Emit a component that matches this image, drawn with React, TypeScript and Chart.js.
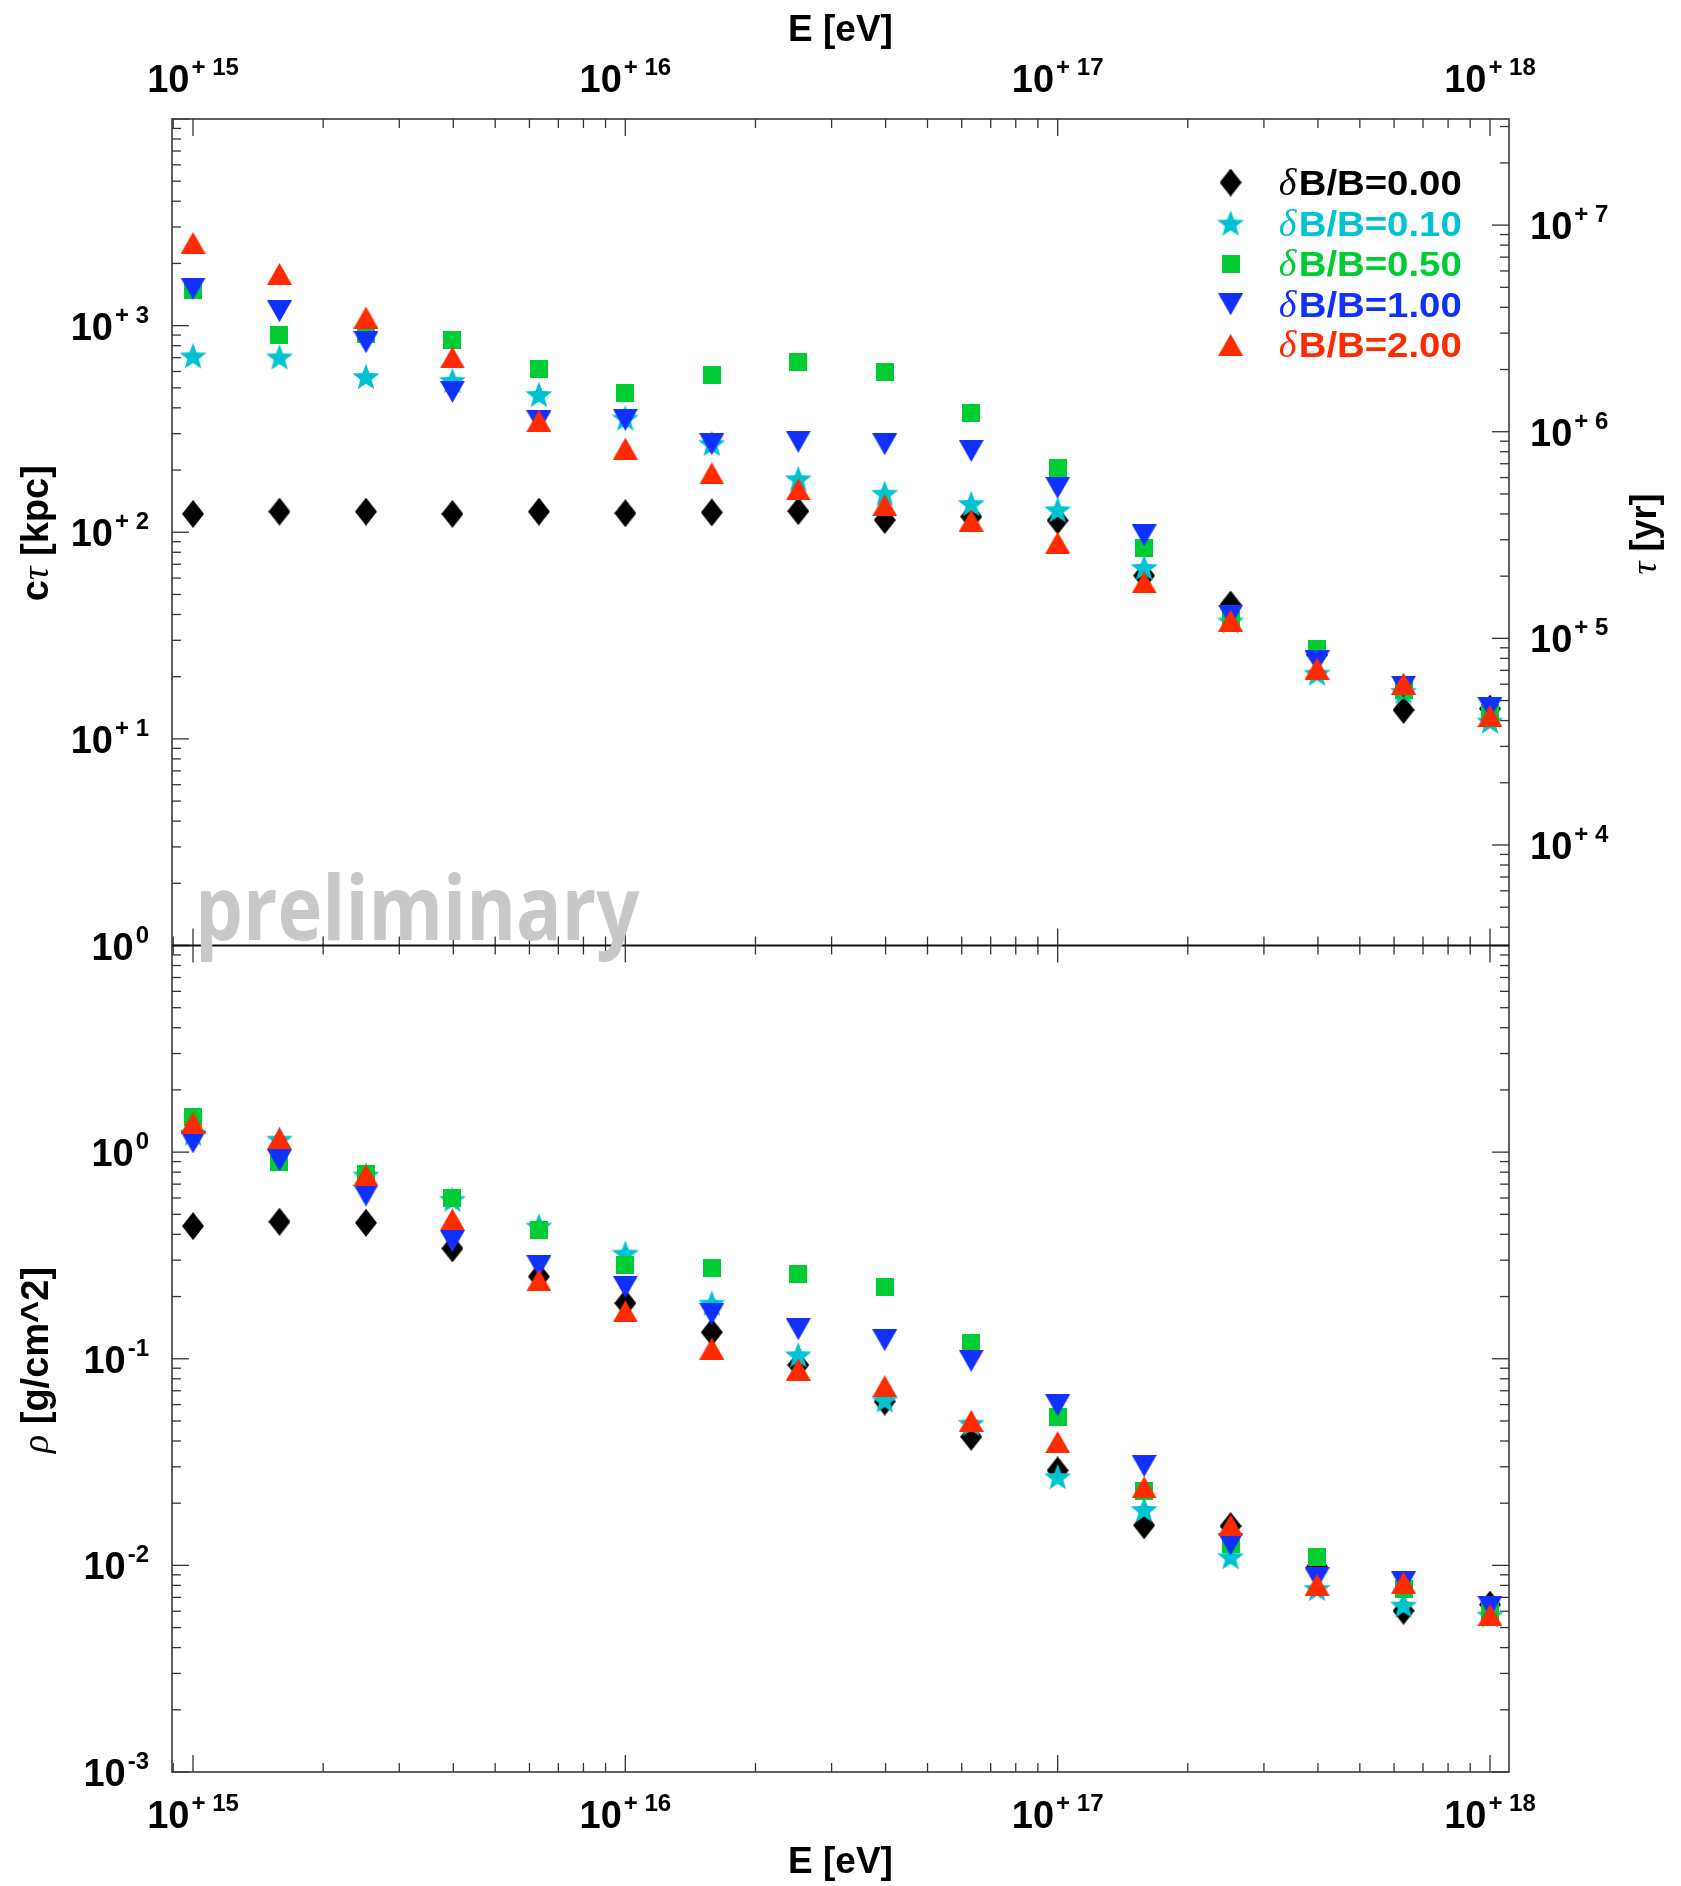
import React, { useEffect, useRef } from "react";
import { Chart, registerables } from "chart.js";

Chart.register(...registerables);

// ---------------- data ----------------
// Energies [eV] (one point every 0.2 decade)
const energyEV = [
  1.0e15, 1.585e15, 2.512e15, 3.981e15, 6.31e15,
  1.0e16, 1.585e16, 2.512e16, 3.981e16, 6.31e16,
  1.0e17, 1.585e17, 2.512e17, 3.981e17, 6.31e17,
  1.0e18,
];

// Series: deltaB/B values
const dBoverB = ["0.00", "0.10", "0.50", "1.00", "2.00"];

// Upper panel: c*tau [kpc]
const ctau_dB000 = [122.7, 125.9, 125.9, 122.7, 125.9, 123.6, 124.7, 126.5, 114.6, 119.1, 114.0, 61.7, 44.7, 25.5, 13.8, 14.0];
const ctau_dB010 = [714.5, 706.3, 567.5, 543.3, 464.5, 357.3, 269.2, 181.6, 154.5, 137.7, 128.5, 67.6, 37.2, 20.8, 17.0, 12.2];
const ctau_dB050 = [1489, 901.6, 912, 853, 619.4, 473.2, 578.1, 668.3, 597.0, 378.4, 205.1, 84.1, 38.0, 27.2, 17.3, 13.3];
const ctau_dB100 = [1510, 1175, 831.8, 478.6, 343.6, 349.9, 266.7, 274.2, 266.7, 247.7, 164.1, 96.8, 39.4, 23.7, 17.9, 14.1];
const ctau_dB200 = [2512, 1778, 1094, 701.5, 345.9, 254.1, 192.8, 161.1, 135.2, 113.8, 88.9, 57.3, 37.3, 21.9, 18.5, 12.9];

// Lower panel: rho [g/cm^2]
const rho_dB000 = [0.4385, 0.4603, 0.455, 0.342, 0.25, 0.1858, 0.1343, 0.0933, 0.0621, 0.0419, 0.0288, 0.01563, 0.01549, 0.00986, 0.00603, 0.00646];
const rho_dB010 = [1.236, 1.156, 0.776, 0.5916, 0.4395, 0.3243, 0.1858, 0.1045, 0.0632, 0.0488, 0.0269, 0.01866, 0.01102, 0.00774, 0.00643, 0.00575];
const rho_dB050 = [1.476, 0.897, 0.78, 0.597, 0.4217, 0.2858, 0.2754, 0.2582, 0.2228, 0.1197, 0.0522, 0.023, 0.01268, 0.01096, 0.00767, 0.00603];
const rho_dB100 = [1.114, 0.914, 0.6166, 0.3707, 0.2805, 0.2228, 0.1648, 0.139, 0.123, 0.0977, 0.0596, 0.0303, 0.01265, 0.00865, 0.00828, 0.00631];
const rho_dB200 = [1.387, 1.164, 0.7745, 0.4721, 0.2399, 0.1698, 0.1119, 0.0887, 0.0736, 0.05, 0.0395, 0.0239, 0.01563, 0.00805, 0.00824, 0.00575];

// Tick labels (powers of ten)
const xTickExponents = [15, 16, 17, 18];
const ctauTickExponents = [0, 1, 2, 3];
const tauTickExponents = [4, 5, 6, 7];
const rhoTickExponents = [-3, -2, -1, 0];

// 1 kpc / c expressed in years (right axis conversion)
const YR_PER_KPC_OVER_C = 3262;

// ---------------- styles ----------------
const ctauSeries = [ctau_dB000, ctau_dB010, ctau_dB050, ctau_dB100, ctau_dB200];
const rhoSeries = [rho_dB000, rho_dB010, rho_dB050, rho_dB100, rho_dB200];
const seriesColors = ["#000000", "#00c3d2", "#00cc33", "#1030ff", "#ff2a00"];
const seriesMarkers = ["diamond", "star", "square", "triangleDown", "triangleUp"];

const W = 1681;
const H = 1886;
const X_MIN = Math.pow(10, 14.9514);
const X_MAX = Math.pow(10, 18.044);

const BOLD = (s: number) => `bold ${s}px "Liberation Sans", Arial, Helvetica, sans-serif`;
const ITAL = (s: number) => `italic ${s}px "Liberation Serif", "DejaVu Serif", serif`;

function makeMarker(kind: string, color: string): HTMLCanvasElement {
  const c = document.createElement("canvas");
  let w = 20;
  let h = 20;
  if (kind === "diamond") { w = 22; h = 28; }
  else if (kind === "star") { w = 28; h = 27; }
  else if (kind === "square") { w = 18; h = 18; }
  else { w = 25; h = 22; }
  c.width = w;
  c.height = h;
  const g = c.getContext("2d") as CanvasRenderingContext2D;
  g.fillStyle = color;
  g.beginPath();
  if (kind === "diamond") {
    g.moveTo(w / 2, 0); g.lineTo(w, h / 2); g.lineTo(w / 2, h); g.lineTo(0, h / 2);
  } else if (kind === "square") {
    g.rect(0, 0, w, h);
  } else if (kind === "triangleUp") {
    g.moveTo(0, h); g.lineTo(w, h); g.lineTo(w / 2, 0);
  } else if (kind === "triangleDown") {
    g.moveTo(0, 0); g.lineTo(w, 0); g.lineTo(w / 2, h);
  } else {
    const R = 14.2;
    const r = R * 0.42;
    const cx = w / 2;
    const cy = (h - R * (1 + Math.cos(Math.PI / 5))) / 2 + R;
    for (let k = 0; k < 10; k++) {
      const ang = -Math.PI / 2 + (k * Math.PI) / 5;
      const rad = k % 2 === 0 ? R : r;
      const px = cx + rad * Math.cos(ang);
      const py = cy + rad * Math.sin(ang);
      if (k === 0) g.moveTo(px, py); else g.lineTo(px, py);
    }
  }
  g.closePath();
  g.fill();
  return c;
}

function expString(n: number): string {
  if (n > 0) return "+ " + n;
  if (n === 0) return "0";
  return "-" + Math.abs(n);
}

function drawPow(ctx: CanvasRenderingContext2D, n: number, x: number, baseline: number, align: string) {
  const mainF = BOLD(38);
  const supF = BOLD(24);
  const sup = expString(n);
  ctx.font = mainF;
  const wm = ctx.measureText("10").width;
  ctx.font = supF;
  const ws = ctx.measureText(sup).width;
  const gap = 2;
  const total = wm + gap + ws;
  const sx = align === "left" ? x : align === "center" ? x - total / 2 : x - total;
  ctx.textAlign = "left";
  ctx.textBaseline = "alphabetic";
  ctx.font = mainF;
  ctx.fillText("10", sx, baseline);
  ctx.font = supF;
  ctx.fillText(sup, sx + wm + gap, baseline - 17);
}

type Part = { t: string; f: string };

function drawParts(ctx: CanvasRenderingContext2D, parts: Part[], cx: number, base: number, rotated: boolean) {
  ctx.save();
  ctx.textAlign = "left";
  ctx.textBaseline = "alphabetic";
  let total = 0;
  const widths = parts.map((p) => {
    ctx.font = p.f;
    const w = ctx.measureText(p.t).width;
    total += w;
    return w;
  });
  if (rotated) {
    ctx.translate(base, cx);
    ctx.rotate(-Math.PI / 2);
    let x = -total / 2;
    parts.forEach((p, i) => { ctx.font = p.f; ctx.fillText(p.t, x, 0); x += widths[i]; });
  } else {
    let x = cx - total / 2;
    parts.forEach((p, i) => { ctx.font = p.f; ctx.fillText(p.t, x, base); x += widths[i]; });
  }
  ctx.restore();
}

function logTickList(minExp: number, maxExp: number) {
  const out: { v: number; major: boolean }[] = [];
  for (let n = minExp; n <= maxExp; n++) {
    for (let k = 1; k <= 9; k++) out.push({ v: k * Math.pow(10, n), major: k === 1 });
  }
  return out;
}

function seg(ctx: CanvasRenderingContext2D, x1: number, y1: number, x2: number, y2: number) {
  ctx.beginPath();
  ctx.moveTo(x1, y1);
  ctx.lineTo(x2, y2);
  ctx.stroke();
}

export default function App() {
  const ref = useRef<HTMLCanvasElement>(null);

  useEffect(() => {
    const canvas = ref.current as HTMLCanvasElement;
    const markers = seriesColors.map((c, i) => makeMarker(seriesMarkers[i], c));

    const datasets: any[] = [];
    ctauSeries.forEach((vals, i) => {
      datasets.push({
        label: "δB/B=" + dBoverB[i],
        data: energyEV.map((e, k) => ({ x: e, y: vals[k] })),
        xAxisID: "x",
        yAxisID: "yTop",
        pointStyle: markers[i],
        pointRadius: 10,
        pointHoverRadius: 10,
        showLine: false,
        order: 4 - i,
      });
    });
    rhoSeries.forEach((vals, i) => {
      datasets.push({
        label: "δB/B=" + dBoverB[i],
        data: energyEV.map((e, k) => ({ x: e, y: vals[k] })),
        xAxisID: "x",
        yAxisID: "yBot",
        pointStyle: markers[i],
        pointRadius: 10,
        pointHoverRadius: 10,
        showLine: false,
        order: 4 - i,
      });
    });

    const axesPlugin = {
      id: "rootAxes",
      beforeDatasetsDraw(chart: any) {
        const ctx = chart.ctx as CanvasRenderingContext2D;
        const a = chart.chartArea;
        const xs = chart.scales.x;
        const yT = chart.scales.yTop;
        const yB = chart.scales.yBot;
        const mid = yT.getPixelForValue(1);
        ctx.save();
        ctx.lineWidth = 1.3;
        ctx.strokeStyle = "#333";
        const xt = logTickList(14, 18).filter((t) => t.v >= X_MIN * 0.9999 && t.v <= X_MAX * 1.0001);
        xt.forEach((t) => {
          const px = xs.getPixelForValue(t.v);
          const L = t.major ? 17 : 9;
          seg(ctx, px, a.top, px, a.top + L);
          seg(ctx, px, mid, px, mid - L);
          seg(ctx, px, mid, px, mid + L);
          seg(ctx, px, a.bottom, px, a.bottom - L);
        });
        logTickList(0, 4).filter((t) => t.v <= 1e4 * 1.0001).forEach((t) => {
          const py = yT.getPixelForValue(t.v);
          const L = t.major ? 17 : 9;
          seg(ctx, a.left, py, a.left + L, py);
        });
        logTickList(3, 7).forEach((t) => {
          const c = t.v / YR_PER_KPC_OVER_C;
          if (c < 1 || c > 1e4) return;
          const py = yT.getPixelForValue(c);
          const L = t.major ? 17 : 9;
          seg(ctx, a.right, py, a.right - L, py);
        });
        logTickList(-3, 1).filter((t) => t.v <= 10 * 1.0001).forEach((t) => {
          const py = yB.getPixelForValue(t.v);
          const L = t.major ? 17 : 9;
          seg(ctx, a.left, py, a.left + L, py);
          seg(ctx, a.right, py, a.right - L, py);
        });
        ctx.lineWidth = 1.6;
        ctx.strokeStyle = "#3a3a3a";
        ctx.strokeRect(a.left, a.top, a.right - a.left, a.bottom - a.top);
        ctx.lineWidth = 2;
        ctx.strokeStyle = "#111";
        seg(ctx, a.left, mid, a.right, mid);
        ctx.restore();
      },
      afterDraw(chart: any) {
        const ctx = chart.ctx as CanvasRenderingContext2D;
        const a = chart.chartArea;
        const xs = chart.scales.x;
        const yT = chart.scales.yTop;
        const yB = chart.scales.yBot;
        ctx.save();
        ctx.fillStyle = "#000";
        // tick labels
        xTickExponents.forEach((n) => {
          const px = xs.getPixelForValue(Math.pow(10, n));
          drawPow(ctx, n, px, 92, "center");
          drawPow(ctx, n, px, 1828, "center");
        });
        ctauTickExponents.forEach((n) => {
          const py = yT.getPixelForValue(Math.pow(10, n));
          drawPow(ctx, n, a.left - 23, py + 14, "right");
        });
        tauTickExponents.forEach((n) => {
          const py = yT.getPixelForValue(Math.pow(10, n) / YR_PER_KPC_OVER_C);
          drawPow(ctx, n, a.right + 21, py + 14, "left");
        });
        rhoTickExponents.forEach((n) => {
          const py = yB.getPixelForValue(Math.pow(10, n));
          drawPow(ctx, n, a.left - 23, py + 14, "right");
        });
        // axis titles
        const cx = (a.left + a.right) / 2;
        drawParts(ctx, [{ t: "E [eV]", f: BOLD(37) }], cx, 41, false);
        drawParts(ctx, [{ t: "E [eV]", f: BOLD(37) }], cx, 1873, false);
        const midTop = (a.top + yT.getPixelForValue(1)) / 2;
        drawParts(ctx, [{ t: "c", f: BOLD(38) }, { t: "τ", f: ITAL(38) }, { t: " [kpc]", f: BOLD(38) }], midTop + 1, 48, true);
        drawParts(ctx, [{ t: "ρ", f: ITAL(38) }, { t: " [g/cm^2]", f: BOLD(38) }], 1360, 48, true);
        drawParts(ctx, [{ t: "τ", f: ITAL(36) }, { t: " [yr]", f: BOLD(36) }], 534, 1656, true);

        // legend
        const legX = xs.getPixelForValue(energyEV[12]);
        const legTextX = 1278.7;
        for (let i = 0; i < dBoverB.length; i++) {
          const y = 182.5 + i * 40.6;
          const m = markers[i];
          ctx.drawImage(m, legX - m.width / 2, y - m.height / 2);
          ctx.fillStyle = seriesColors[i];
          ctx.textAlign = "left";
          ctx.textBaseline = "alphabetic";
          ctx.font = ITAL(38);
          ctx.fillText("δ", legTextX, y + 12.5);
          ctx.font = BOLD(35);
          const s = "B/B=" + dBoverB[i];
          const mw = ctx.measureText(s).width;
          ctx.save();
          ctx.translate(legTextX + 20, y + 12.5);
          ctx.scale(163 / mw, 1);
          ctx.fillText(s, 0, 0);
          ctx.restore();
        }

        // watermark
        ctx.font = 'bold 90px "Open Sans", Lato, sans-serif';
        ctx.fillStyle = "#c8c8c8";
        ctx.textAlign = "left";
        ctx.textBaseline = "alphabetic";
        const txt = "preliminary";
        const mm = ctx.measureText(txt);
        const inkW = mm.actualBoundingBoxLeft + mm.actualBoundingBoxRight;
        const sx = 439 / inkW;
        ctx.translate(201, 940);
        ctx.scale(sx, 1);
        ctx.fillText(txt, mm.actualBoundingBoxLeft, 0);
        ctx.restore();
      },
    };

    const chart = new Chart(canvas, {
      type: "scatter",
      data: { datasets },
      options: {
        responsive: false,
        animation: false,
        events: [],
        layout: { padding: { left: 172, right: W - 1509, top: 119, bottom: H - 1772 } },
        plugins: { legend: { display: false }, tooltip: { enabled: false } },
        scales: {
          x: { type: "logarithmic", axis: "x", min: X_MIN, max: X_MAX, display: false },
          y: { display: false },
          yTop: { type: "logarithmic", axis: "y", min: 1e-4, max: 1e4, display: false },
          yBot: { type: "logarithmic", axis: "y", min: 1e-3, max: 1e5, display: false },
        },
      } as any,
      plugins: [axesPlugin],
    });

    return () => chart.destroy();
  }, []);

  return (
    <div style={{ position: "absolute", left: 0, top: 0, width: W, height: H, background: "#fff" }}>
      <canvas ref={ref} width={W} height={H} style={{ display: "block", width: W, height: H }} />
    </div>
  );
}
